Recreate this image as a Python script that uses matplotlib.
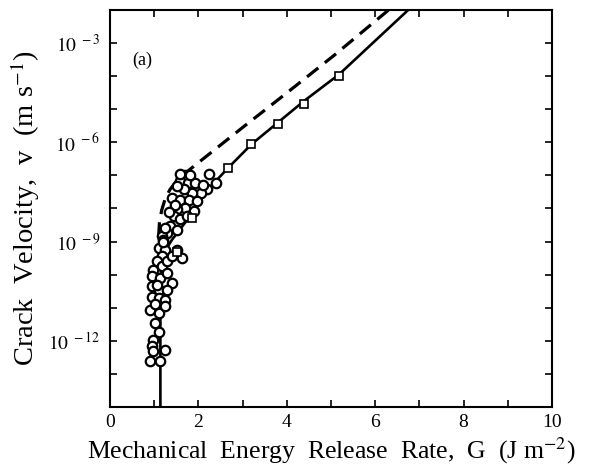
import matplotlib.pyplot as plt
import numpy as np

plt.rcParams['font.family'] = ['Liberation Serif', 'DejaVu Serif']
plt.rcParams['mathtext.fontset'] = 'stix'

# measured crack velocity data (G in J m-2, log10 v in m s-1)
circle_G = [1.70, 1.59, 1.76, 1.93, 2.23, 2.39, 2.20, 2.05, 1.86, 1.67, 1.52, 1.40,
            1.59, 1.78, 1.97, 1.89, 1.70, 1.52, 1.44, 1.59, 1.74, 1.36, 1.52, 1.29,
            1.17, 1.25, 1.10, 1.25, 1.17, 1.06, 0.98, 1.17, 1.29, 1.40, 1.63, 1.52,
            0.95, 1.14, 1.29, 1.40, 0.95, 1.10, 1.29, 0.95, 1.10, 1.25, 0.91, 1.10,
            1.25, 1.02, 1.10, 0.98, 0.95, 0.98, 1.25, 0.91, 1.14, 1.59, 1.82, 2.10,
            1.48, 1.33, 1.21, 1.06, 1.02, 1.20]
circle_logv = [-7.00, -7.17, -7.22, -7.22, -6.97, -7.22, -7.42, -7.52, -7.52, -7.42, -7.32, -7.68,
               -7.73, -7.73, -7.78, -8.08, -7.98, -8.03, -8.23, -8.33, -8.23, -8.54, -8.64, -8.74,
               -8.84, -8.58, -9.19, -9.24, -9.44, -9.60, -9.85, -9.75, -9.60, -9.44, -9.49, -9.24,
               -10.05, -10.10, -9.95, -10.25, -10.35, -10.45, -10.45, -10.66, -10.71, -10.76, -11.06, -11.16,
               -10.96, -11.47, -11.72, -11.97, -12.17, -12.32, -12.27, -12.60, -12.60, -6.97, -7.00, -7.30,
               -7.90, -8.10, -8.95, -10.30, -10.90, -9.00]

square_G = [1.52, 1.86, 2.66, 3.20, 3.80, 4.39, 5.18]
square_logv = [-9.30, -8.30, -6.79, -6.06, -5.45, -4.85, -4.00]

# model curves
solid_G = [1.14, 1.14, 1.15, 1.18, 1.26, 1.40, 1.60, 1.86, 2.20, 2.66, 3.20, 3.80, 4.39, 5.18, 6.77]
solid_logv = [-14.0, -10.6, -10.0, -9.6, -9.25, -8.95, -8.60, -8.15, -7.45, -6.79, -6.06, -5.40, -4.75, -3.95, -1.97]

dash_G = [1.10, 1.12, 1.17, 1.25, 1.36, 1.55, 1.90, 3.03, 3.94, 5.08, 6.33]
dash_logv = [-8.85, -8.40, -8.05, -7.70, -7.42, -7.10, -6.72, -5.52, -4.57, -3.36, -1.97]

ytick_exp = [-3, -6, -9, -12]

fig = plt.figure(figsize=(6.02, 4.73), dpi=100)
ax = fig.add_axes([0.1827, 0.1395, 0.7343, 0.8394])

ax.plot(solid_G, 10.0 ** np.array(solid_logv), color='black', lw=1.9, zorder=2)
ax.plot(dash_G, 10.0 ** np.array(dash_logv), color='black', lw=2.3,
        dashes=(4.5, 2.6), zorder=2)
ax.plot(circle_G, 10.0 ** np.array(circle_logv), linestyle='none', marker='o',
        ms=6.8, mfc='white', mec='black', mew=1.6, zorder=3)
ax.plot(square_G, 10.0 ** np.array(square_logv), linestyle='none', marker='s',
        ms=6.3, mfc='white', mec='black', mew=1.2, zorder=3)

ax.set_yscale('log')
ax.set_xlim(0, 10)
ax.set_ylim(1e-14, 1e-2)

ax.set_xticks(np.arange(0, 11, 2))
ax.set_xticks(np.arange(1, 10, 2), minor=True)
ax.set_xticklabels([str(v) for v in range(0, 11, 2)])
ax.set_yticks([10.0 ** e for e in ytick_exp])
ax.set_yticklabels([r'$10^{\ %d}$' % e for e in ytick_exp])
ax.set_yticks([10.0 ** e for e in range(-13, -2) if e not in ytick_exp], minor=True)
ax.yaxis.set_minor_formatter(plt.NullFormatter())

ax.tick_params(which='both', direction='in', top=True, right=True, width=1.2)
ax.tick_params(which='major', length=5, labelsize=14)
ax.tick_params(axis='x', which='major', pad=5)
ax.tick_params(axis='y', which='major', pad=7)
ax.tick_params(which='minor', length=5)
for s in ax.spines.values():
    s.set_linewidth(1.5)

ax.text(0.5, 10.0 ** -3.66, '(a)', fontsize=13)

ax.set_xlabel(r'Mechanical  Energy  Release  Rate,  G  (J m$^{-2}$)', fontsize=18.5, labelpad=3)
ax.set_ylabel(r'Crack  Velocity,  v  (m s$^{-1}$)', fontsize=20.5, labelpad=5)

fig.savefig('out.png', dpi=100)
